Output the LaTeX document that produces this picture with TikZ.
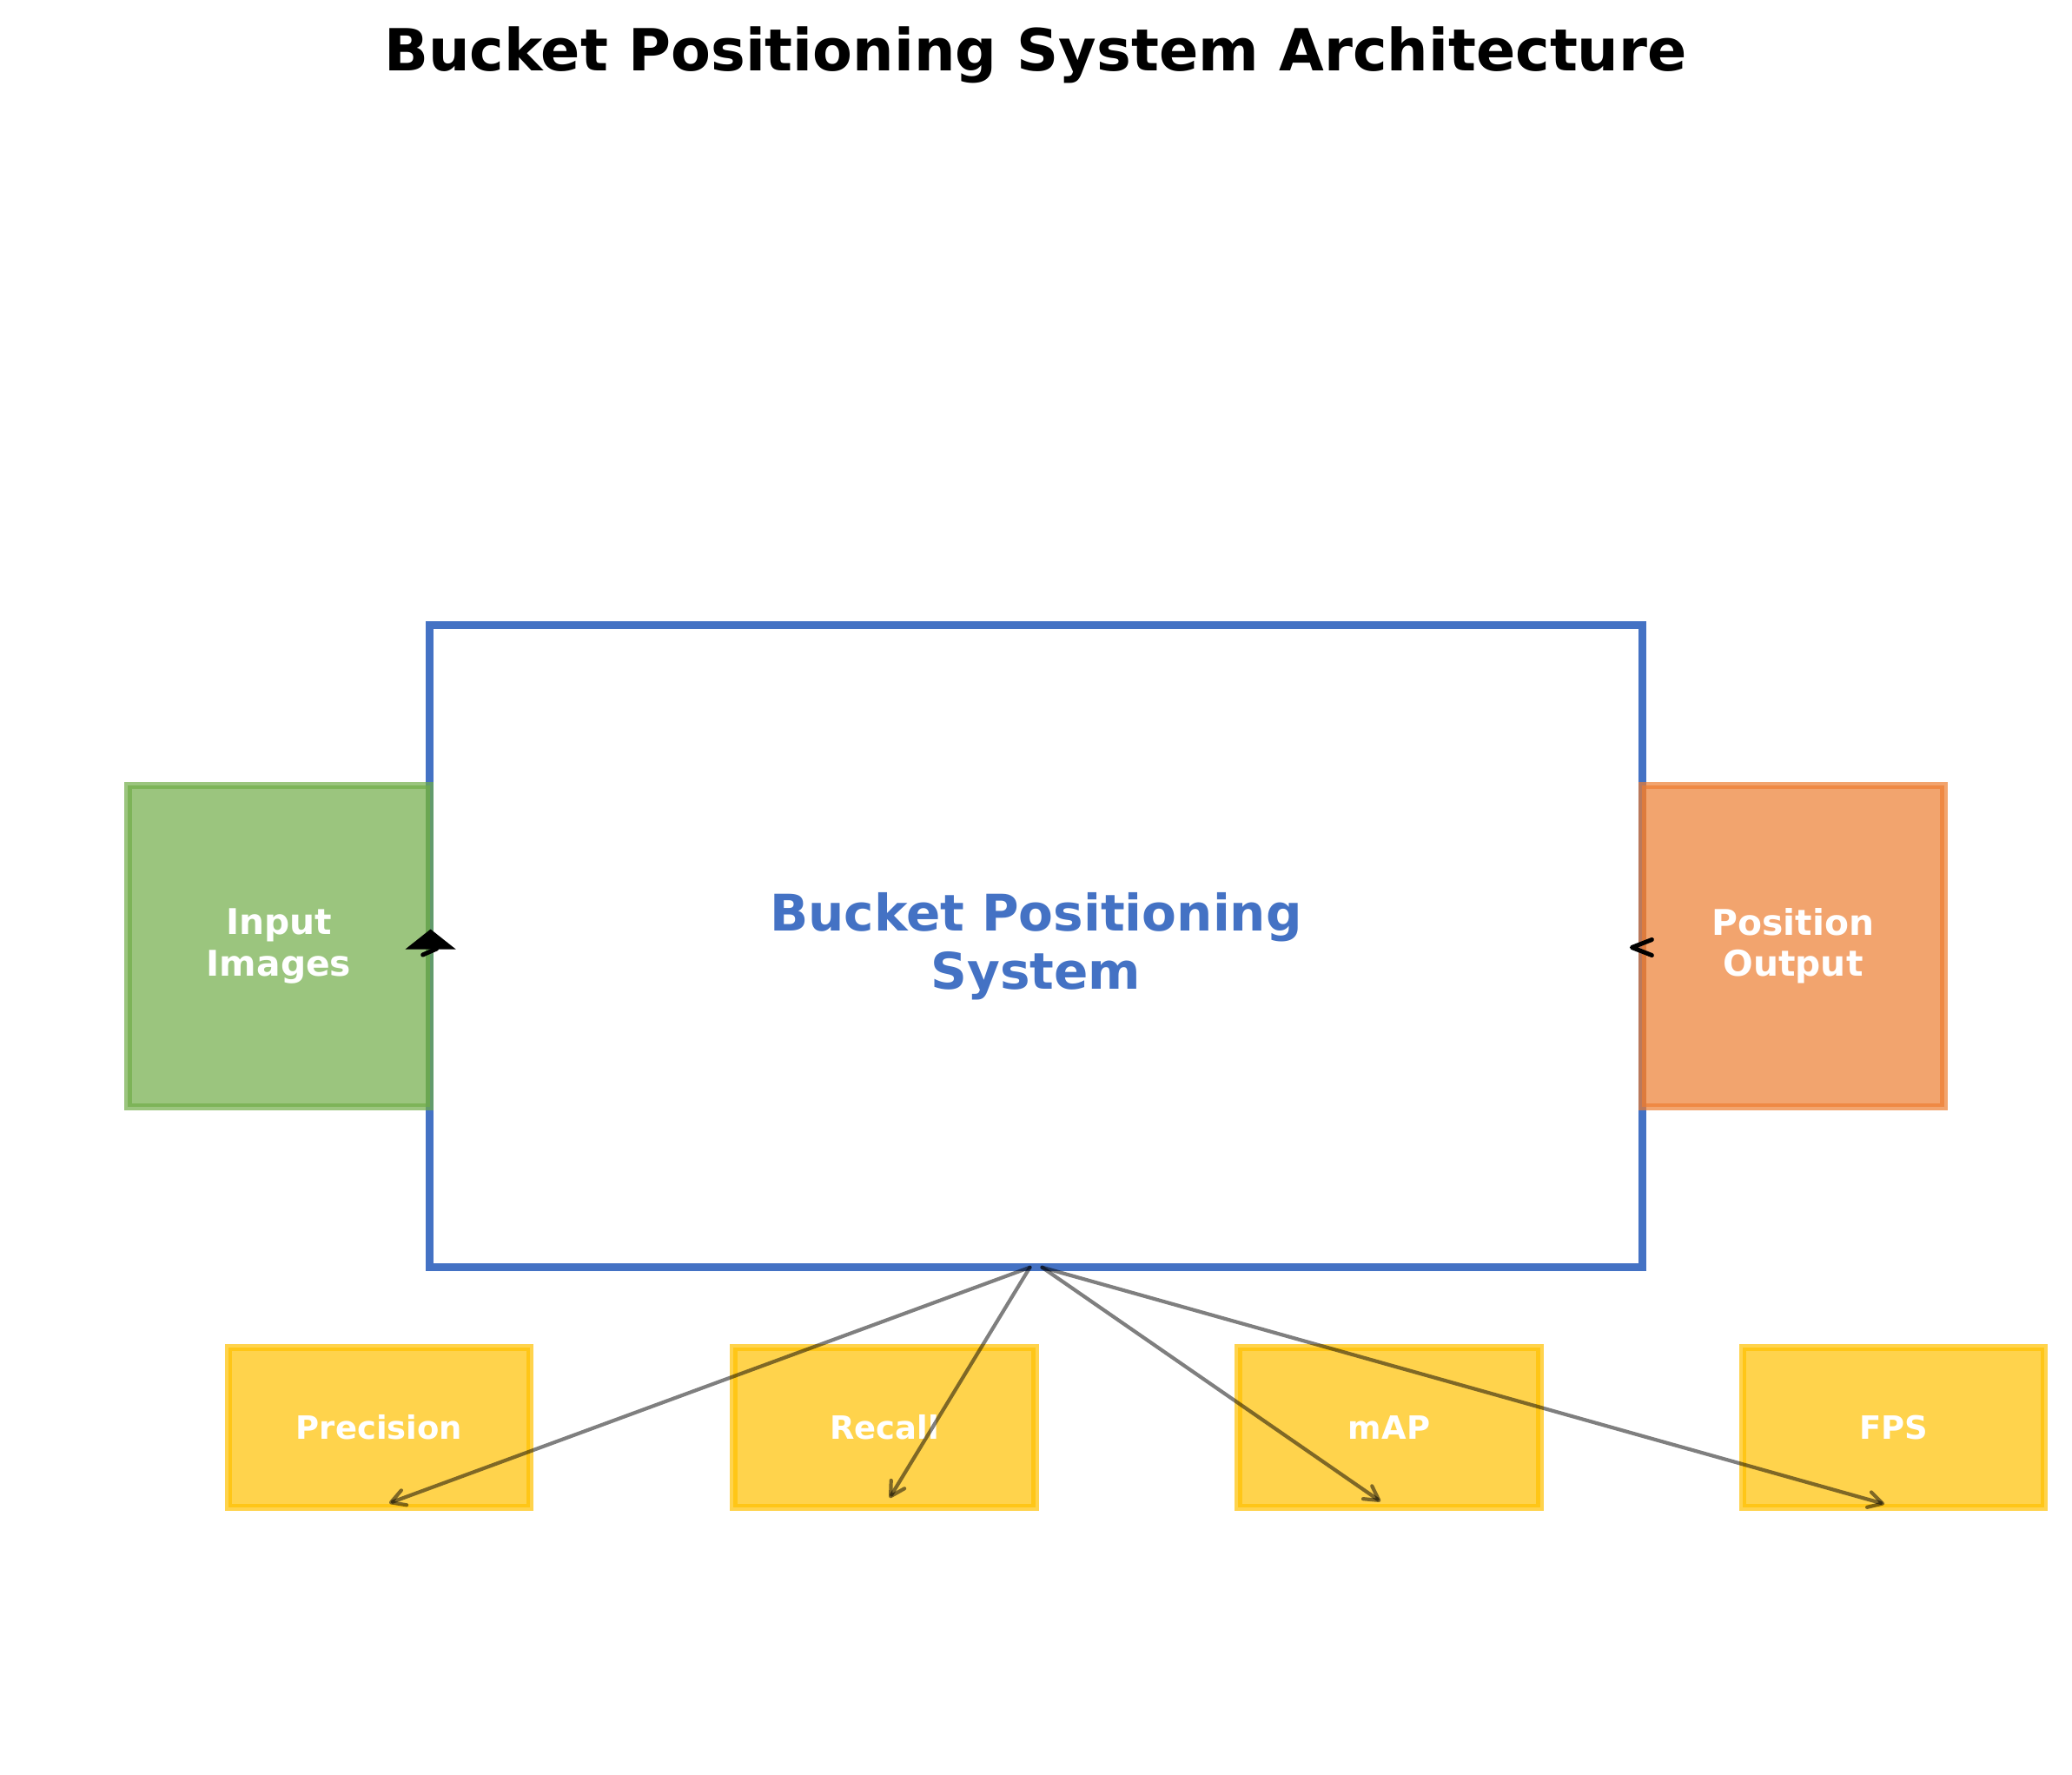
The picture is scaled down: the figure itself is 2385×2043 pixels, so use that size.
\documentclass[tikz,border=0pt]{standalone}
\usepackage{fontspec}
\setmainfont{DejaVu Sans}
\usetikzlibrary{arrows.meta, positioning}

\definecolor{sysblue}{HTML}{4472C4}
\definecolor{ingreen}{HTML}{70AD47}
\definecolor{outorange}{HTML}{ED7D31}
\definecolor{metricgold}{HTML}{FFC000}

\begin{document}
\begin{tikzpicture}[
    x=0.01cm, y=-0.01cm,
    system/.style={draw=sysblue, line width=0.09cm, fill=white, minimum width=13.95cm, minimum height=7.39cm, inner sep=0pt, outer sep=0pt, align=center, text=sysblue, font=\fontsize{16.5}{19.1}\selectfont\bfseries},
    iobox/.style={line width=0.085cm, minimum width=3.47cm, minimum height=3.70cm, inner sep=0pt, outer sep=0pt, align=center, fill opacity=0.7, draw opacity=0.7, text opacity=1, text=white, font=\fontsize{11.6}{13.4}\selectfont\bfseries},
    inbox/.style={iobox, draw=ingreen, fill=ingreen},
    outbox/.style={iobox, draw=outorange, fill=outorange},
    metric/.style={draw=metricgold, fill=metricgold, line width=0.085cm, fill opacity=0.7, draw opacity=0.7, text opacity=1, minimum width=3.47cm, minimum height=1.84cm, inner sep=0pt, outer sep=0pt, text=white, font=\fontsize{10.5}{12.6}\selectfont\bfseries},
    metricarrow/.style={-{Straight Barb[length=0.16cm, width=0.18cm, round]}, line width=0.042cm, line cap=round, black, opacity=0.5},
    headline/.style={font=\fontsize{19}{23}\selectfont\bfseries, anchor=base}
]
\useasboundingbox (0,0) rectangle (2385,2043);

\node[headline] (title) at (1192,82) {Bucket Positioning System Architecture};

\node[system] (main) at (1192.5,1089) {Bucket Positioning\\System};
\node[inbox, left=0pt of main] (input) {Input\\Images};
\node[outbox, right=0pt of main] (output) {Position\\Output};

% Metric boxes
\node[metric] (precision) at (436.5,1643) {Precision};
\node[metric] (recall) at (1018,1643) {Recall};
\node[metric] (map) at (1599,1643) {mAP};
\node[metric] (fps) at (2179.5,1643) {FPS};

% Arrows
\fill[shift={(input.east)}] (1,-19.5) -- (-28,3.5) -- (30,3.5) -- cycle;
\draw[line width=0.05cm, line cap=round, shift={(input.east)}] (-8,10) -- (8,3);
\draw[line width=0.05cm, line cap=round, line join=round, shift={(output.west)}] (11,-7.5) -- (-12,1.5) -- (11,10.5);

\draw[metricarrow] ([xshift=-0.07cm]main.south) -- ([shift={(0.115cm,0.05cm)}]precision.south);
\draw[metricarrow] ([xshift=-0.07cm]main.south) -- ([shift={(0.06cm,0.11cm)}]recall.south);
\draw[metricarrow] ([xshift=0.07cm]main.south) -- ([shift={(-0.10cm,0.07cm)}]map.south);
\draw[metricarrow] ([xshift=0.07cm]main.south) -- ([shift={(-0.105cm,0.04cm)}]fps.south);

\end{tikzpicture}
\end{document}
